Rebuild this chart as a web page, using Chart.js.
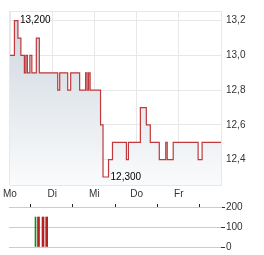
<!DOCTYPE html>
<html>
<head>
<meta charset="utf-8">
<script src="https://cdn.jsdelivr.net/npm/chart.js@4"></script>
<style>
  html, body { margin: 0; padding: 0; background: #fff; }
  #wrap { position: relative; width: 264px; height: 255px; }
  canvas { position: absolute; left: 0; }
  #price-chart { top: 0; }
  #volume-chart { top: 200px; }
</style>
</head>
<body>
<div id="wrap">
  <canvas id="price-chart" width="264" height="200"></canvas>
  <canvas id="volume-chart" width="264" height="55"></canvas>
</div>
<script>
// --- data (x = trading days since Monday open) ---
const dayLabels = ['Mo', 'Di', 'Mi', 'Do', 'Fr'];
const dayTicks = [0, 1, 2, 3, 4, 5];

const priceTimes = [0, 0.106, 0.189, 0.259, 0.342, 0.377, 0.413, 0.472, 0.519, 0.625, 0.696,
  1.132, 1.179, 1.368, 1.439, 1.651, 1.792, 1.828, 1.863, 1.899,
  2.146, 2.205, 2.335, 2.429, 2.759, 2.807,
  3.090, 3.231, 3.325, 3.538, 3.691, 3.726, 3.868,
  4.458, 4.552, 5.0];
const prices = [13.0, 13.2, 13.1, 13.0, 12.9, 13.0, 12.9, 13.0, 12.9, 13.1, 12.9,
  12.8, 12.9, 12.8, 12.9, 12.8, 12.9, 12.8, 12.9, 12.8,
  12.6, 12.3, 12.4, 12.5, 12.4, 12.5,
  12.7, 12.6, 12.5, 12.4, 12.5, 12.4, 12.5,
  12.4, 12.5, 12.5];
const priceTicks = [12.4, 12.6, 12.8, 13.0, 13.2];

const buyTimes = [0.625];
const buyVolumes = [150];
const sellTimes = [0.696, 0.802, 0.889];
const sellVolumes = [150, 150, 150];
const volumeTicks = [0, 100, 200];

const FONT = { family: '"Liberation Sans", Arial, sans-serif', size: 10 };
const GRID = '#e8e8e8';

const fmt = (v, d) => v.toFixed(d).replace('.', ',');

// frame round the plot area
const framePlugin = {
  id: 'frame',
  beforeDatasetsDraw(chart) {
    const a = chart.chartArea, ctx = chart.ctx;
    ctx.save();
    ctx.strokeStyle = GRID;
    ctx.lineWidth = 1;
    ctx.strokeRect(Math.round(a.left) + 0.5, Math.round(a.top) + 0.5,
      Math.round(a.right - a.left), Math.round(a.bottom - a.top));
    ctx.restore();
  }
};

// high / low labels
const extremesPlugin = {
  id: 'extremes',
  afterDatasetsDraw(chart) {
    const xs = chart.scales.x, ys = chart.scales.y, ctx = chart.ctx;
    const hi = prices.indexOf(Math.max(...prices));
    const lo = prices.indexOf(Math.min(...prices));
    ctx.save();
    ctx.font = '10px "Liberation Sans", Arial, sans-serif';
    ctx.fillStyle = '#000';
    ctx.textBaseline = 'middle';
    [hi, lo].forEach(i => {
      const x = xs.getPixelForValue(priceTimes[i + 1]) + 2;
      const y = ys.getPixelForValue(prices[i]);
      ctx.fillText(fmt(prices[i], 3), x, y);
    });
    ctx.restore();
  }
};

new Chart(document.getElementById('price-chart'), {
  type: 'line',
  data: {
    datasets: [{
      data: priceTimes.map((t, i) => ({ x: t, y: prices[i] })),
      stepped: true,
      borderColor: '#c0393b',
      borderWidth: 1.2,
      pointRadius: 0,
      fill: 'start',
      backgroundColor(ctx) {
        const a = ctx.chart.chartArea;
        if (!a) return 'rgba(210,218,226,0.8)';
        const g = ctx.chart.ctx.createLinearGradient(0, a.top, 0, a.bottom);
        g.addColorStop(0, 'rgb(204,213,221)');
        g.addColorStop(1, 'rgb(250,251,252)');
        return g;
      }
    }]
  },
  options: {
    responsive: false,
    animation: false,
    layout: { padding: { top: 7, left: 9, right: 0, bottom: 0 } },
    plugins: { legend: { display: false }, tooltip: { enabled: false } },
    scales: {
      x: {
        type: 'linear',
        min: 0,
        max: 5,
        afterBuildTicks: s => { s.ticks = dayTicks.map(v => ({ value: v })); },
        afterFit: s => { s.height = 15; },
        grid: { color: GRID, drawTicks: false },
        border: { display: false },
        ticks: {
          padding: 3,
          color: '#333',
          font: FONT,
          maxRotation: 0,
          autoSkip: false,
          callback: v => dayLabels[v] || ''
        }
      },
      y: {
        position: 'right',
        min: 12.254,
        max: 13.256,
        afterBuildTicks: s => { s.ticks = priceTicks.map(v => ({ value: v })); },
        afterFit: s => { s.width = 43; },
        grid: { color: GRID, drawTicks: false },
        border: { display: false },
        ticks: {
          padding: 5,
          color: '#333',
          font: FONT,
          callback: v => fmt(v, 1)
        }
      }
    }
  },
  plugins: [framePlugin, extremesPlugin]
});

new Chart(document.getElementById('volume-chart'), {
  type: 'bar',
  data: {
    datasets: [
      {
        data: buyTimes.map((t, i) => ({ x: t, y: buyVolumes[i] })),
        backgroundColor: '#1a8a1a',
        barThickness: 1,
        grouped: false
      },
      {
        data: sellTimes.map((t, i) => ({ x: t, y: sellVolumes[i] })),
        backgroundColor: '#b22222',
        barThickness: 2,
        grouped: false
      }
    ]
  },
  options: {
    responsive: false,
    animation: false,
    layout: { padding: { top: 0, left: 9, right: 0, bottom: 8 } },
    plugins: { legend: { display: false }, tooltip: { enabled: false } },
    scales: {
      x: {
        type: 'linear',
        position: 'top',
        min: 0,
        max: 5,
        offset: false,
        afterBuildTicks: s => { s.ticks = dayTicks.map(v => ({ value: v })); },
        afterFit: s => { s.height = 7; },
        grid: { drawOnChartArea: false, drawTicks: true, tickLength: 3, tickColor: '#222' },
        border: { display: true, color: '#ccc' },
        ticks: { display: false }
      },
      y: {
        position: 'right',
        min: 0,
        max: 200,
        afterBuildTicks: s => { s.ticks = volumeTicks.map(v => ({ value: v })); },
        afterFit: s => { s.width = 43; },
        grid: { color: '#ccc', drawTicks: true, tickLength: 4, tickColor: '#333' },
        border: { display: false },
        ticks: { padding: 1, color: '#333', font: FONT }
      }
    }
  }
});
</script>
</body>
</html>
